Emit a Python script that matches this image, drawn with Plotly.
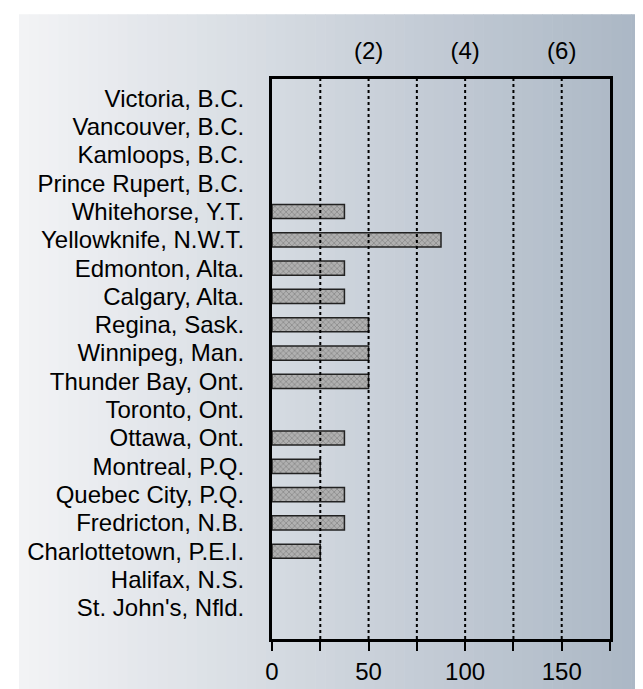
import plotly.graph_objects as go

# ── Data ─────────────────────────────────────────────────────────────────────
cities = [
    "Victoria, B.C.", "Vancouver, B.C.", "Kamloops, B.C.", "Prince Rupert, B.C.",
    "Whitehorse, Y.T.", "Yellowknife, N.W.T.", "Edmonton, Alta.", "Calgary, Alta.",
    "Regina, Sask.", "Winnipeg, Man.", "Thunder Bay, Ont.", "Toronto, Ont.",
    "Ottawa, Ont.", "Montreal, P.Q.", "Quebec City, P.Q.", "Fredricton, N.B.",
    "Charlottetown, P.E.I.", "Halifax, N.S.", "St. John's, Nfld.",
]
values = [0, 0, 0, 0, 37.5, 87.5, 37.5, 37.5, 50, 50, 50, 0,
          37.5, 25, 37.5, 37.5, 25, 0, 0]

x_ticks = [0, 25, 50, 75, 100, 125, 150, 175]
x_ticktext = ["0", "", "50", "", "100", "", "150", ""]
grid_vals = [25, 50, 75, 100, 125, 150]
top_ticks = [50, 100, 150]
top_ticktext = ["(2)", "(4)", "(6)"]

FONT = dict(family="Liberation Sans, Arial, sans-serif", size=24, color="black")

# ── Figure ───────────────────────────────────────────────────────────────────
fig = go.Figure()
fig.add_trace(go.Bar(
    x=values,
    y=cities,
    orientation="h",
    width=0.5,
    marker=dict(
        color="#b0b0b0",
        line=dict(color="#222222", width=[1.5 if v else 0 for v in values]),
        pattern=dict(shape="x", size=4, fgcolor="#606060", solidity=0.35),
    ),
    showlegend=False,
))
# invisible trace so the top axis is drawn
fig.add_trace(go.Scatter(x=[0], y=[cities[0]], xaxis="x2", mode="markers",
                         marker=dict(opacity=0), showlegend=False, hoverinfo="skip"))

# background gradient (margins included), built from thin paper-space strips
L, R, T, B = 264, 602, 71, 633
W, H = 643, 689
left_rgb = (242, 243, 245)
right_rgb = (170, 182, 196)
n = 64
x_start, y_top, y_bot = 11, 6, 687
step = (W - x_start) / n
shapes = []
for i in range(n):
    t = i / (n - 1)
    c = tuple(round(a + (b - a) * t) for a, b in zip(left_rgb, right_rgb))
    px0 = x_start + i * step
    px1 = px0 + step + 0.6
    shapes.append(dict(
        type="rect", xref="paper", yref="paper", layer="below",
        x0=(px0 - L) / (R - L), x1=(px1 - L) / (R - L),
        y0=(B - y_bot) / (B - T), y1=(B - y_top) / (B - T),
        fillcolor="rgb(%d,%d,%d)" % c, line=dict(width=0),
    ))
# dotted grid lines drawn above the bars
for g in grid_vals:
    shapes.append(dict(
        type="line", xref="x", yref="paper", layer="above",
        x0=g, x1=g, y0=0, y1=1,
        line=dict(color="black", width=2, dash="dot"),
    ))

fig.update_layout(
    width=W, height=H,
    margin=dict(l=L, r=W - R, t=T, b=H - B),
    paper_bgcolor="white",
    plot_bgcolor="rgba(0,0,0,0)",
    font=FONT,
    shapes=shapes,
    xaxis=dict(
        range=[0, 175], tickvals=x_ticks, ticktext=x_ticktext,
        showgrid=False, zeroline=False,
        showline=True, linecolor="black", linewidth=3, mirror=True,
        ticks="outside", ticklen=9, tickwidth=2, tickcolor="black",
        ticklabelstandoff=0,
    ),
    xaxis2=dict(
        range=[0, 175], overlaying="x", side="top",
        tickvals=top_ticks, ticktext=top_ticktext,
        showgrid=False, zeroline=False, showline=False, ticks="",
        ticklabelstandoff=14,
    ),
    yaxis=dict(
        type="category", categoryorder="array", categoryarray=cities,
        tickmode="array", tickvals=cities, ticktext=cities,
        range=[18 + 1.1, -0.68],
        showgrid=False, zeroline=False,
        showline=True, linecolor="black", linewidth=3, mirror=True,
        ticks="", ticklabelstandoff=20,
    ),
)

fig.write_html("out.html")
